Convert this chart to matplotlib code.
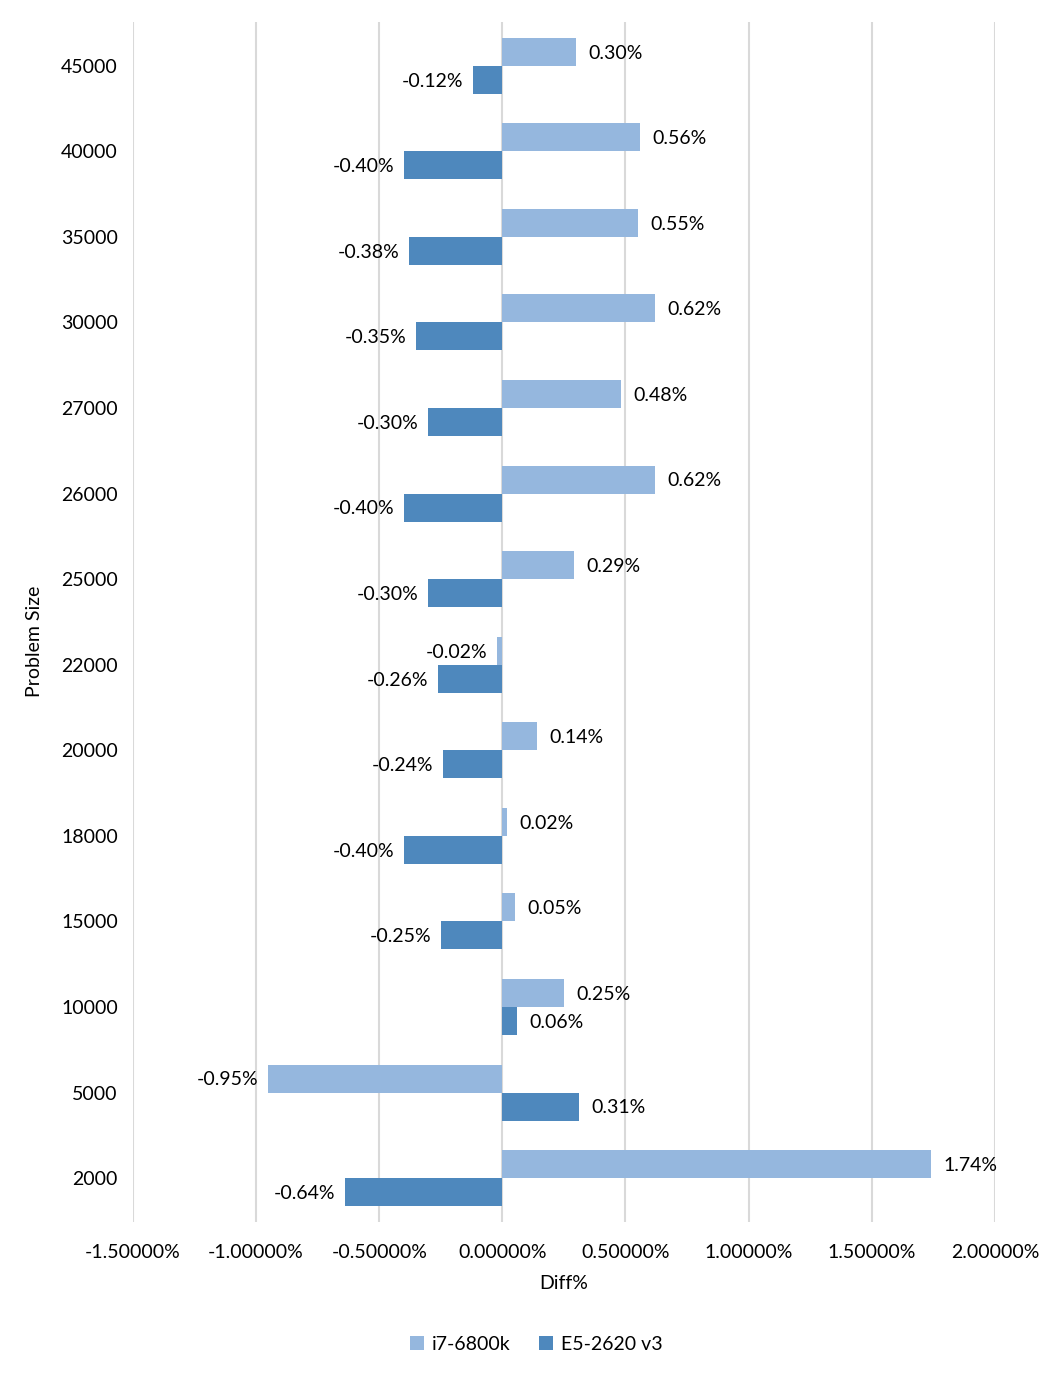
import matplotlib.pyplot as plt
import numpy as np

plt.rcParams['font.family'] = ['Lato', 'DejaVu Sans']

# data (bottom to top as drawn)
sizes = ["2000", "5000", "10000", "15000", "18000", "20000", "22000",
         "25000", "26000", "27000", "30000", "35000", "40000", "45000"]
i7_vals = [1.74, -0.95, 0.25, 0.05, 0.02, 0.14, -0.02,
           0.29, 0.62, 0.48, 0.62, 0.55, 0.56, 0.30]
e5_vals = [-0.64, 0.31, 0.06, -0.25, -0.40, -0.24, -0.26,
           -0.30, -0.40, -0.30, -0.35, -0.38, -0.40, -0.12]
xticks = [-1.5, -1.0, -0.5, 0.0, 0.5, 1.0, 1.5, 2.0]

light = "#95B7DE"
dark = "#4E88BD"
fs = 14

fig = plt.figure(figsize=(10.64, 13.79), dpi=100)
ax = fig.add_axes([0.125, 0.114, 0.810, 0.870])

y = np.arange(len(sizes))
h = 0.327
ax.barh(y + h / 2, i7_vals, height=h, color=light, label="i7-6800k", zorder=3)
ax.barh(y - h / 2, e5_vals, height=h, color=dark, label="E5-2620 v3", zorder=3)

# value labels at bar ends
for vals, off in ((i7_vals, h / 2), (e5_vals, -h / 2)):
    for yi, v in zip(y, vals):
        if v >= 0:
            ax.annotate(f"{v:.2f}%", (v, yi + off), xytext=(9, -1), textcoords="offset points",
                        ha="left", va="center", fontsize=fs)
        else:
            ax.annotate(f"{v:.2f}%", (v, yi + off), xytext=(-7, -1), textcoords="offset points",
                        ha="right", va="center", fontsize=fs)

ax.set_xlim(-1.5, 2.0)
ax.set_ylim(-0.51, len(sizes) - 0.49)
ax.set_xticks(xticks)
ax.set_xticklabels([f"{t:.5f}%" for t in xticks], fontsize=fs)
ax.set_yticks(y)
ax.set_yticklabels(sizes, fontsize=fs)
ax.tick_params(axis="y", length=0, pad=11)
ax.tick_params(axis="x", length=0, pad=16)
ax.grid(axis="x", color="#D9D9D9", linewidth=1.5, zorder=0)
for s in ax.spines.values():
    s.set_visible(False)

ax.set_xlabel("Diff%", fontsize=fs, labelpad=10)
ax.set_ylabel("Problem Size", fontsize=fs)
ax.yaxis.set_label_coords(-0.104, 0.484)

fig.legend(loc="center", bbox_to_anchor=(0.504, 0.025), ncol=2, frameon=False,
           fontsize=fs, handlelength=0.7, handleheight=0.7, handletextpad=0.4, columnspacing=1.5)

fig.savefig("out.png", dpi=100)
